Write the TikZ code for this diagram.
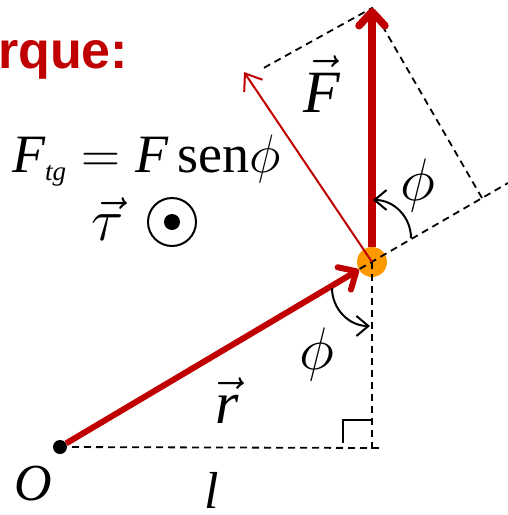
\RequirePackage{fix-cm}
\documentclass[tikz,border=0pt]{standalone}
\usepackage{fontspec}
\setmainfont{Liberation Serif}
\newfontfamily\headfont{Liberation Sans}
\usepackage{tikz}
\usetikzlibrary{arrows.meta, positioning, calc}
\definecolor{torquered}{HTML}{C00000}
\definecolor{pivotorange}{HTML}{FF9900}

\begin{document}
\begin{tikzpicture}[
        x=1pt, y=-1pt,
        big/.style={font=\fontsize{52}{60}\selectfont},
        huge/.style={font=\fontsize{60}{70}\selectfont},
        vecthick/.style={torquered, line width=6pt, -{Straight Barb[length=14pt, width=26pt, round]}},
        vecthin/.style={torquered, line width=2pt, -{Straight Barb[length=15pt, width=22pt]}},
        guide/.style={black, line width=1.8pt, dash pattern=on 7pt off 5pt},
        anglearc/.style={black, line width=2pt, -{Straight Barb[length=12pt, width=20pt]}},
        every node/.style={inner sep=0pt}
    ]
    \useasboundingbox (0,0) rectangle (508,515);

    % --- Title (cut at the left edge) ---
    \node[anchor=base west, text=torquered, font={\headfont\bfseries\fontsize{52}{60}\selectfont}] (title) at (-2,68) {rque:};

    % --- Pivot and origin ---
    \node[circle, fill=pivotorange, minimum size=30pt] (P) at (372,262) {};
    \node[circle, fill=black, minimum size=14pt] (O) at (60,447) {};

    % --- Helper points ---
    \coordinate (Ftip) at (372,8);
    \coordinate (Fpar) at (482,198);
    \coordinate (Fperp) at (260,70);
    \coordinate (Fperptip) at (244,72);
    \coordinate (rback) at (287,311);
    \coordinate (rfront) at (508,183);
    \coordinate (Lend) at (379,448);
    \coordinate (Vend) at (372,453);

    % --- Dashed construction lines ---
    \draw[guide] (O.center) -- (Lend);
    \draw[guide] (P.center) -- (Vend);
    \draw[guide] (rback) -- (rfront);
    \draw[guide] (Fpar) -- (Ftip) -- (Fperp);
    \draw[line width=1.8pt] (343,443) -- (343,420) -- (372,420);

    % --- Vectors ---
    \draw[vecthick] (O) -- (P);
    \draw[vecthick, line width=7.5pt] (P) -- (Ftip);
    \draw[vecthin] (P.center) -- (Fperptip);

    % --- Angle arcs ---
    \coordinate (arcup) at (411,238);
    \coordinate (arclow) at (332,288);
    \draw[anglearc] (arcup) arc[start angle=0, end angle=90, radius=38pt];
    \draw[anglearc] (arclow) arc[start angle=180, end angle=270, radius=38pt];

    % --- Labels ---
    \node[huge, anchor=base] (Flab) at (322,112) {$\vec{\mathit{F}}$};
    \node[huge] (phiup) at (418,185) {$\phi$};
    \node[huge] (philow) at (317,354) {$\phi$};
    \node[huge, anchor=base] (rlab) at (227,423) {$\vec{\mathit{r}}$};
    \node[big, anchor=base] (Olab) at (33,500) {\textit{O}};
    \node[big, anchor=base] (llab) at (212,508) {\textit{l}};

    % --- Formula and torque direction ---
    \node[font=\fontsize{54}{64}\selectfont, anchor=base west] (ftg) at (12,172) {$\mathit{F}_{\scriptscriptstyle\mathit{tg}}\;{=}\;\mathit{F}\,\mathrm{sen}\phi$};
    \node[huge, anchor=base] (tau) at (108,240) {$\vec{\tau}$};
    \node[draw, circle, line width=2pt, minimum size=48pt] (outof) at (172,222) {};
    \node[circle, fill=black, minimum size=16pt] (outdot) at (outof) {};
\end{tikzpicture}
\end{document}
